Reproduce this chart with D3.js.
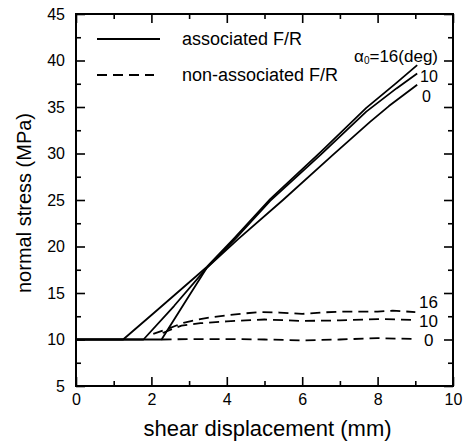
<!DOCTYPE html>
<html lang="en">
  <head>
    <meta charset="utf-8">
    <style>
      body { margin: 0; background: #fff; }
      text { font-family: "Liberation Sans", Arial, sans-serif; fill: #000; }
      .curve { fill: none; stroke: #000; stroke-width: 1.8; stroke-linejoin: round; }
      .dashed { stroke-dasharray: 10,6; }
      .axis line { stroke: #000; stroke-width: 1.6; }
      .axis path { display: none; }
      .axis text { font-size: 16px; }
    </style>
  </head>
  <body>
  <script src="https://d3js.org/d3.v7.min.js"></script>
  <script>
  var width = 464;
  var height = 442;

  // tick values
  var xTicks = [0, 2, 4, 6, 8, 10];
  var xMinor = [1, 3, 5, 7, 9];
  var yTicks = [5, 10, 15, 20, 25, 30, 35, 40, 45];
  var yMinor = [7.5, 12.5, 17.5, 22.5, 27.5, 32.5, 37.5, 42.5];

  // associated F/R (solid) curves, [shear displacement, normal stress]
  var assoc16 = [[0, 10], [1.25, 10], [2.05, 12.8], [3.47, 17.8], [4.2, 20.9], [5.15, 25.1],
                 [6.5, 30.2], [7.7, 34.9], [8.5, 37.6], [9.05, 39.5]];
  var assoc10 = [[0, 10], [1.79, 10], [2.6, 13.6], [3.47, 17.7], [4.2, 20.7], [5.15, 24.9],
                 [6.5, 29.9], [7.7, 34.5], [8.5, 37.0], [9.05, 38.6]];
  var assoc0  = [[0, 10], [2.27, 10], [3.0, 14.7], [3.47, 17.7], [4.3, 20.8], [5.49, 25.0],
                 [6.8, 29.8], [7.8, 33.4], [8.3, 35.1], [9.05, 37.4]];

  // non-associated F/R (dashed) curves
  var nonAssoc16 = [[2.05, 10.6], [2.4, 11.1], [2.85, 11.8], [3.25, 12.15], [3.6, 12.4], [4.0, 12.6],
                    [4.45, 12.8], [4.9, 12.95], [5.4, 12.9], [6.0, 12.75], [6.5, 12.9], [7.0, 13.0],
                    [8.0, 13.0], [8.4, 13.1], [9.0, 12.95]];
  var nonAssoc10 = [[2.3, 10.7], [2.6, 11.2], [2.8, 11.5], [3.3, 11.75], [4.0, 11.95], [4.5, 12.05],
                    [5.0, 12.15], [6.0, 12.0], [7.0, 12.05], [8.0, 12.2], [9.0, 12.1]];
  var nonAssoc0  = [[2.27, 10], [3, 10.05], [4, 10.05], [5, 10], [6, 9.9], [7, 10.0], [8, 10.15], [9, 10.05]];

  var endLabels = ["10", "0"];
  var dashLabels = ["16", "10", "0"];

  var svg = d3.select("body")
    .append("svg")
    .attr("width", width)
    .attr("height", height);

  var x = d3.scaleLinear().domain([0, 10]).range([76, 453]);
  var y = d3.scaleLinear().domain([5, 45]).range([386, 14]);

  // axes, ticks pointing inward
  svg.append("g").attr("class", "axis")
    .attr("transform", "translate(0," + y(5) + ")")
    .call(d3.axisBottom(x).tickValues(xTicks).tickSize(-9).tickSizeOuter(0).tickPadding(8));
  svg.append("g").attr("class", "axis")
    .attr("transform", "translate(0," + y(5) + ")")
    .call(d3.axisBottom(x).tickValues(xMinor).tickSize(-5).tickSizeOuter(0).tickFormat(""));
  svg.append("g").attr("class", "axis")
    .attr("transform", "translate(0," + y(45) + ")")
    .call(d3.axisTop(x).tickValues(xTicks).tickSize(-9).tickSizeOuter(0).tickFormat(""));
  svg.append("g").attr("class", "axis")
    .attr("transform", "translate(0," + y(45) + ")")
    .call(d3.axisTop(x).tickValues(xMinor).tickSize(-5).tickSizeOuter(0).tickFormat(""));

  svg.append("g").attr("class", "axis")
    .attr("transform", "translate(" + x(0) + ",0)")
    .call(d3.axisLeft(y).tickValues(yTicks).tickSize(-9).tickSizeOuter(0).tickPadding(11));
  svg.append("g").attr("class", "axis")
    .attr("transform", "translate(" + x(0) + ",0)")
    .call(d3.axisLeft(y).tickValues(yMinor).tickSize(-5).tickSizeOuter(0).tickFormat(""));
  svg.append("g").attr("class", "axis")
    .attr("transform", "translate(" + x(10) + ",0)")
    .call(d3.axisRight(y).tickValues(yTicks).tickSize(-9).tickSizeOuter(0).tickFormat(""));
  svg.append("g").attr("class", "axis")
    .attr("transform", "translate(" + x(10) + ",0)")
    .call(d3.axisRight(y).tickValues(yMinor).tickSize(-5).tickSizeOuter(0).tickFormat(""));

  svg.selectAll(".axis text").attr("font-size", 16);

  // frame
  svg.append("rect")
    .attr("x", x(0)).attr("y", y(45))
    .attr("width", x(10) - x(0)).attr("height", y(5) - y(45))
    .attr("fill", "none").attr("stroke", "#000").attr("stroke-width", 2);

  var line = d3.line()
    .x(function(d) { return x(d[0]); })
    .y(function(d) { return y(d[1]); });

  [assoc16, assoc10, assoc0].forEach(function(s) {
    svg.append("path").attr("class", "curve").attr("d", line(s));
  });
  [nonAssoc16, nonAssoc10, nonAssoc0].forEach(function(s) {
    svg.append("path").attr("class", "curve dashed").attr("d", line(s));
  });

  // legend
  svg.append("line").attr("x1", 97).attr("x2", 160).attr("y1", 39).attr("y2", 39)
    .attr("stroke", "#000").attr("stroke-width", 1.8);
  svg.append("line").attr("x1", 97).attr("x2", 154).attr("y1", 75).attr("y2", 75)
    .attr("stroke", "#000").attr("stroke-width", 1.8).attr("stroke-dasharray", "10,6");
  svg.append("text").attr("x", 182).attr("y", 45).attr("font-size", 18).text("associated F/R");
  svg.append("text").attr("x", 182).attr("y", 81).attr("font-size", 18).text("non-associated F/R");

  // curve labels
  var alpha = svg.append("text").attr("x", 438).attr("y", 62).attr("font-size", 17)
    .attr("text-anchor", "end");
  alpha.append("tspan").text("α");
  alpha.append("tspan").attr("font-size", 10).attr("dy", 2).text("0");
  alpha.append("tspan").attr("dy", -2).text("=16(deg)");

  svg.selectAll(".endlabel")
    .data(endLabels)
    .enter().append("text")
    .attr("class", "endlabel")
    .attr("x", function(d, i) { return i === 0 ? 420 : 422; })
    .attr("y", function(d, i) { return i === 0 ? 82 : 102; })
    .attr("font-size", 16)
    .text(function(d) { return d; });

  var dashEnds = [nonAssoc16, nonAssoc10, nonAssoc0];
  svg.selectAll(".dashlabel")
    .data(dashLabels)
    .enter().append("text")
    .attr("class", "dashlabel")
    .attr("x", function(d, i) { return i === 2 ? 424 : 419; })
    .attr("y", function(d, i) { return y(dashEnds[i][dashEnds[i].length - 1][1]) + [-4, 7, 7][i]; })
    .attr("font-size", 17)
    .text(function(d) { return d; });

  // axis titles
  svg.append("text")
    .attr("x", (x(0) + x(10)) / 2 + 3).attr("y", 436)
    .attr("text-anchor", "middle").attr("font-size", 22)
    .text("shear displacement (mm)");
  svg.append("text")
    .attr("transform", "translate(31," + 203 + ") rotate(-90)")
    .attr("text-anchor", "middle").attr("font-size", 20)
    .text("normal stress (MPa)");
  </script>
  </body>
</html>
